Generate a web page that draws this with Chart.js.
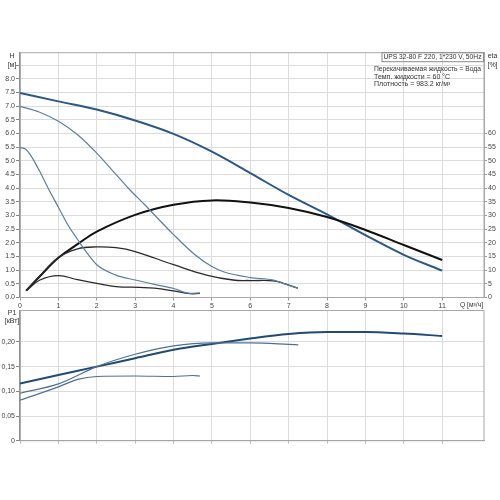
<!DOCTYPE html>
<html>
<head>
<meta charset="utf-8">
<script src="https://cdn.jsdelivr.net/npm/chart.js@4"></script>
<style>
html, body { margin: 0; padding: 0; background: #fff; }
#wrap { position: relative; width: 500px; height: 500px; }
#topChart { position: absolute; left: 0; top: 0; width: 500px; height: 310px; }
#bottomChart { position: absolute; left: 0; top: 300px; width: 500px; height: 200px; }
</style>
</head>
<body>
<div id="wrap">
    <canvas id="topChart" width="500" height="310"></canvas>
    <canvas id="bottomChart" width="500" height="200"></canvas>
</div>
<script>
// Q-H curves (m), three speeds
const qHead3 = [0, 1, 2, 3, 4, 5, 6, 7, 8, 9, 10, 11];
const head3 = [7.48, 7.17, 6.87, 6.47, 5.98, 5.33, 4.55, 3.75, 3.04, 2.28, 1.56, 0.98];
const qHead2 = [0, 0.5, 1, 1.5, 2, 2.5, 2.86, 3.25, 4, 4.56, 5, 5.3, 6, 6.6, 6.85, 7.24];
const head2 = [6.99, 6.78, 6.44, 5.95, 5.28, 4.5, 3.94, 3.39, 2.3, 1.56, 1.13, 0.94, 0.73, 0.64, 0.52, 0.34];
const qHead1 = [0, 0.15, 0.3, 0.5, 0.75, 1, 1.25, 1.5, 1.75, 2, 2.5, 3, 3.5, 4, 4.43, 4.69];
const head1 = [5.48, 5.42, 5.15, 4.65, 3.95, 3.3, 2.65, 2.12, 1.62, 1.2, 0.82, 0.64, 0.48, 0.33, 0.15, 0.17];

// efficiency curves (%)
const qEta3 = [0.16, 0.5, 1, 1.5, 2, 3, 4, 5, 6, 7, 8, 9, 10, 11];
const eta3 = [2.5, 7.5, 14.5, 19.5, 24.1, 30.2, 33.9, 35.5, 34.7, 32.7, 29.4, 24.7, 19.2, 13.7];
const qEta2 = [0.16, 0.5, 1, 1.5, 2, 2.5, 3, 4, 4.86, 5.55, 6, 6.6, 6.86, 7.24];
const eta2 = [2.5, 7.6, 14.6, 17.8, 18.5, 18.2, 16.8, 12.0, 8.2, 6.4, 6.2, 6.1, 5.2, 3.4];
const qEta1 = [0.16, 0.52, 1, 1.5, 2, 2.5, 3.12, 3.5, 4, 4.43, 4.69];
const eta1 = [2.5, 6.4, 8.0, 6.5, 5.2, 4.0, 3.7, 3.4, 2.4, 1.4, 1.5];

// power curves P1 (kW)
const qPower3 = [0, 1, 2, 3, 4, 5, 6, 7, 8, 9, 10, 11];
const power3 = [0.116, 0.133, 0.150, 0.167, 0.184, 0.196, 0.207, 0.216, 0.220, 0.220, 0.217, 0.212];
const qPower2 = [0, 1, 2, 3, 4, 5, 6, 7, 7.25];
const power2 = [0.096, 0.115, 0.150, 0.175, 0.192, 0.198, 0.198, 0.195, 0.194];
const qPower1 = [0, 1, 1.5, 2, 3, 4, 4.5, 4.69];
const power1 = [0.082, 0.109, 0.124, 0.130, 0.131, 0.130, 0.132, 0.131];

const pumpTitle = 'UPS 32-80 F 220, 1*230 V, 50Hz';
const infoLines = ['Перекачиваемая жидкость = Вода', 'Темп. жидкости = 60 °C', 'Плотность = 983.2 кг/м³'];

const FONT = "'Liberation Sans', Arial, sans-serif";
const GRID = '#dcdcdc';

function pts(xs, ys) {
    return xs.map((x, i) => ({ x: x, y: ys[i] }));
}

function onStep(step) {
    return function(scale) {
        scale.ticks = scale.ticks.filter(t => Math.abs(t.value / step - Math.round(t.value / step)) < 1e-6);
    };
}

function curve(data, color, width, axis) {
    const ds = {
        data: data,
        borderColor: color,
        borderWidth: width,
        pointRadius: 0,
        fill: false,
        yAxisID: axis || 'y'
    };
    // efficiency curves have a hump, so a plain tension looks smoother there
    if (axis === 'y2') ds.tension = 0.4;
    else ds.cubicInterpolationMode = 'monotone';
    return ds;
}

// frame round the plot and free texts
const decorPlugin = {
    id: 'decor',
    beforeDatasetsDraw(chart) {
        const a = chart.chartArea;
        const ctx = chart.ctx;
        ctx.save();
        ctx.strokeStyle = '#a8a8a8';
        ctx.lineWidth = 1;
        ctx.strokeRect(a.left, a.top, a.right - a.left, a.bottom - a.top);
        ctx.restore();
    },
    afterDraw(chart, args, opts) {
        const ctx = chart.ctx;
        ctx.save();
        ctx.fillStyle = '#333';
        ctx.font = '7px ' + FONT;
        ctx.textBaseline = 'middle';
        (opts.texts || []).forEach(t => {
            ctx.textAlign = t[3] || 'left';
            if (t[4]) ctx.fillText(t[0], t[1], t[2], t[4]);
            else ctx.fillText(t[0], t[1], t[2]);
        });
        if (opts.box) {
            ctx.strokeStyle = '#8a8a8a';
            ctx.lineWidth = 1;
            ctx.strokeRect(opts.box[0], opts.box[1], opts.box[2], opts.box[3]);
        }
        ctx.restore();
    }
};

const tickFont = { family: FONT, size: 7 };

new Chart(document.getElementById('topChart'), {
    type: 'line',
    data: {
        datasets: [
            curve(pts(qHead2, head2), '#5b7ea4', 1.2),
            curve(pts(qHead1, head1), '#5b7ea4', 1.2),
            curve(pts(qEta2, eta2), '#2a2a2a', 1.3, 'y2'),
            curve(pts(qEta1, eta1), '#2a2a2a', 1.3, 'y2'),
            curve(pts(qEta3, eta3), '#111111', 2, 'y2'),
            curve(pts(qHead3, head3), '#2b5886', 2)
        ]
    },
    options: {
        responsive: false,
        animation: false,
        layout: { padding: { top: 52.7, left: 0, right: 0, bottom: 0 } },
        plugins: {
            legend: { display: false },
            tooltip: { enabled: false },
            decor: {
                texts: [
                    ['H', 12, 56, 'center'],
                    ['[м]', 12, 65, 'center'],
                    ['eta', 492.5, 56, 'center'],
                    ['[%]', 492.5, 65, 'center'],
                    [pumpTitle, 383.5, 57.5, 'left', 98],
                    [infoLines[0], 374, 69.5, 'left', 107],
                    [infoLines[1], 374, 77, 'left'],
                    [infoLines[2], 374, 84.5, 'left'],
                    ['Q [м³/ч]', 460, 305.5, 'left', 23]
                ],
                box: [382, 52.7, 101.5, 9]
            }
        },
        scales: {
            x: {
                type: 'linear',
                min: 0,
                max: 12.09,
                afterBuildTicks: onStep(1),
                afterFit: function(s) { s.height = 12.5; },
                grid: { color: GRID, tickLength: 3, tickColor: '#999' },
                border: { color: '#999', width: 1 },
                ticks: {
                    stepSize: 1,
                    font: tickFont,
                    color: '#444',
                    padding: 1,
                    maxRotation: 0,
                    autoSkip: false,
                    callback: function(value) { return value > 11 ? '' : value; }
                }
            },
            y: {
                position: 'left',
                min: 0,
                max: 8.95,
                afterBuildTicks: onStep(0.5),
                afterFit: function(s) { s.width = 20; },
                grid: { color: GRID, tickLength: 4, tickColor: '#888' },
                border: { color: '#808080', width: 1.5 },
                ticks: {
                    stepSize: 0.5,
                    font: tickFont,
                    color: '#444',
                    padding: 1,
                    autoSkip: false,
                    callback: function(value) { return value > 8 ? '' : value.toFixed(1); }
                }
            },
            y2: {
                position: 'right',
                min: 0,
                max: 89.5,
                afterBuildTicks: onStep(5),
                afterFit: function(s) { s.width = 16; },
                grid: {
                    drawOnChartArea: false,
                    tickLength: 3,
                    tickColor: function(c) { return c.tick && c.tick.value > 60 ? 'rgba(0,0,0,0)' : '#999'; }
                },
                border: { color: '#a8a8a8', width: 1 },
                ticks: {
                    stepSize: 5,
                    font: tickFont,
                    color: '#444',
                    padding: 1,
                    autoSkip: false,
                    callback: function(value) { return value > 60 ? '' : value; }
                }
            }
        }
    },
    plugins: [decorPlugin]
});

new Chart(document.getElementById('bottomChart'), {
    type: 'line',
    data: {
        datasets: [
            curve(pts(qPower2, power2), '#4f7096', 1.2),
            curve(pts(qPower1, power1), '#4f7096', 1.2),
            curve(pts(qPower3, power3), '#1f4b76', 2)
        ]
    },
    options: {
        responsive: false,
        animation: false,
        layout: { padding: { top: 10.5, left: 0, right: 16, bottom: 0 } },
        plugins: {
            legend: { display: false },
            tooltip: { enabled: false },
            decor: {
                texts: [
                    ['P1', 12, 13.5, 'center'],
                    ['[кВт]', 12, 21.5, 'center']
                ]
            }
        },
        scales: {
            x: {
                type: 'linear',
                min: 0,
                max: 12.09,
                afterBuildTicks: onStep(1),
                afterFit: function(s) { s.height = 59.3; },
                grid: { color: GRID, tickLength: 3, tickColor: '#bbb' },
                border: { color: '#999', width: 1 },
                ticks: { display: false, stepSize: 1 }
            },
            y: {
                position: 'left',
                min: 0,
                max: 0.2636,
                afterBuildTicks: onStep(0.05),
                afterFit: function(s) { s.width = 20; },
                grid: { color: GRID, tickLength: 4, tickColor: '#888' },
                border: { color: '#808080', width: 1.5 },
                ticks: {
                    stepSize: 0.05,
                    font: tickFont,
                    color: '#444',
                    padding: 1,
                    autoSkip: false,
                    callback: function(value) {
                        if (value === 0) return '0';
                        return value > 0.21 ? '' : value.toFixed(2).replace('.', ',');
                    }
                }
            }
        }
    },
    plugins: [decorPlugin]
});
</script>
</body>
</html>
